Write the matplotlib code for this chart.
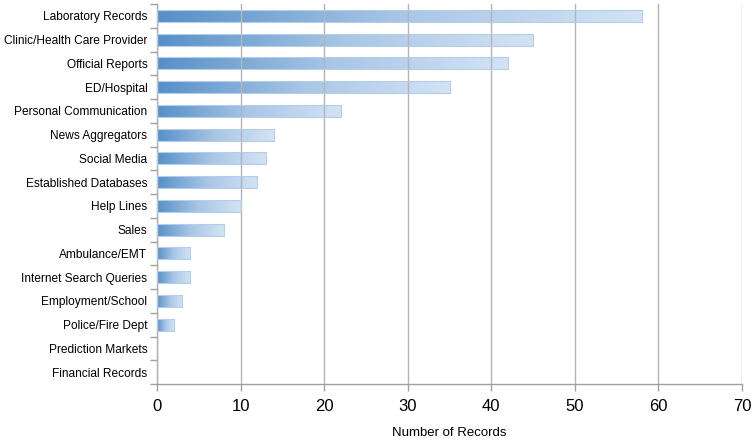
import numpy as np
import matplotlib
matplotlib.use('Agg')
import matplotlib.pyplot as plt
from matplotlib.colors import LinearSegmentedColormap
from matplotlib.patches import Rectangle

plt.rcParams['font.family'] = ['Liberation Sans', 'DejaVu Sans']

# data
categories = ['Laboratory Records', 'Clinic/Health Care Provider', 'Official Reports',
              'ED/Hospital', 'Personal Communication', 'News Aggregators', 'Social Media',
              'Established Databases', 'Help Lines', 'Sales', 'Ambulance/EMT',
              'Internet Search Queries', 'Employment/School', 'Police/Fire Dept',
              'Prediction Markets', 'Financial Records']
records = [58, 45, 42, 35, 22, 14, 13, 12, 10, 8, 4, 4, 3, 2, 0, 0]
x_ticks = [0, 10, 20, 30, 40, 50, 60, 70]

grad = LinearSegmentedColormap.from_list('bluegrad', ['#5690c8', '#a9c6e6', '#d3e3f5'])
gradient = np.linspace(0, 1, 256).reshape(1, -1)

fig = plt.figure(figsize=(7.56, 4.42), dpi=100)
ax = fig.add_axes([157/756, 1 - 384/442, 585/756, 380/442])

n = len(categories)
ypos = np.arange(n)[::-1]
h = 0.5
for y, v in zip(ypos, records):
    if v <= 0:
        continue
    ax.imshow(gradient, cmap=grad, aspect='auto', interpolation='bicubic',
              extent=[0, v, y - h / 2, y + h / 2], zorder=2)
    ax.add_patch(Rectangle((0, y - h / 2), v, h, fill=False, edgecolor='#b4cde8',
                           linewidth=0.8, zorder=3))

ax.set_xlim(0, 70)
ax.set_ylim(-0.5, n - 0.5)
ax.set_xticks(x_ticks)
ax.set_xticklabels([str(t) for t in x_ticks], fontsize=12)
ax.set_yticks(ypos)
ax.set_yticklabels(categories, fontsize=8.6)
ax.set_yticks(np.arange(-0.5, n, 1), minor=True)
ax.tick_params(axis='y', which='major', length=0, pad=7)
ax.tick_params(axis='y', which='minor', length=5, color='#a0a0a0', width=1)
ax.tick_params(axis='x', length=5, color='#a0a0a0', width=1, pad=6)

ax.grid(axis='x', color='#b4b4b4', linewidth=1, zorder=4)
ax.set_axisbelow(False)
for s in ['top', 'right']:
    ax.spines[s].set_visible(False)
for s in ['left', 'bottom']:
    ax.spines[s].set_color('#a0a0a0')
    ax.spines[s].set_linewidth(1)

ax.set_xlabel('Number of Records', fontsize=9.5, labelpad=9)

fig.savefig('out.png', dpi=100)
